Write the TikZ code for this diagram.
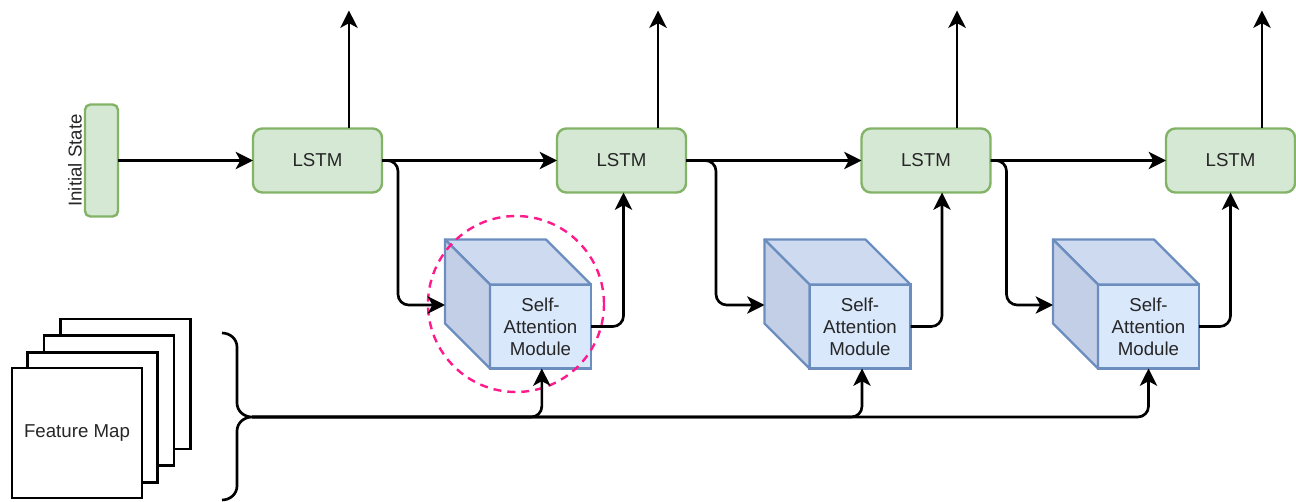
\documentclass[tikz,border=0pt]{standalone}
\usepackage{fontspec}
\setmainfont{Liberation Sans}
\usetikzlibrary{arrows.meta,calc}
\definecolor{lfill}{HTML}{D5E8D4}
\definecolor{lstroke}{HTML}{82B366}
\definecolor{cfront}{HTML}{DAE8FC}
\definecolor{ctop}{HTML}{CDDAF0}
\definecolor{cside}{HTML}{C3CFE6}
\definecolor{cstroke}{HTML}{6C8EBF}
\definecolor{hl}{HTML}{FF1A8C}
\definecolor{txt}{HTML}{262626}
\begin{document}
\begin{tikzpicture}[x=0.75pt,y=-0.75pt,
  lbl/.style={font=\fontsize{14}{16.5}\selectfont, text=txt},
  lstm/.style={lbl, draw=lstroke, fill=lfill, line width=1.8pt, rounded corners=7pt,
    minimum width=96.75pt, minimum height=48pt, inner sep=0pt, outer sep=0pt},
  initbox/.style={draw=lstroke, fill=lfill, line width=1.8pt, rounded corners=4pt,
    minimum width=24.75pt, minimum height=84pt, inner sep=0pt, outer sep=0pt},
  front/.style={lbl, draw=cstroke, fill=cfront, line width=1.8pt, align=center,
    minimum width=75.75pt, minimum height=63pt, inner sep=0pt, outer sep=0pt},
  topface/.style={draw=cstroke, fill=ctop, line width=1.8pt, line join=round},
  sideface/.style={draw=cstroke, fill=cside, line width=1.8pt, line join=round},
  fmap/.style={lbl, draw=black, fill=white, line width=2.2pt, minimum size=97.5pt,
    inner sep=0pt, outer sep=0pt},
  arr/.style={-{Stealth[length=13pt,width=13pt,inset=3.5pt]}, line width=2pt, black},
  elbow/.style={arr, rounded corners=8pt},
  focus/.style={draw=hl, line width=1.8pt, dash pattern=on 6pt off 4.5pt, circle,
    minimum size=132pt, inner sep=0pt},
]
\useasboundingbox (0,0) rectangle (1296,502);

% initial state
\node[initbox] (init) at (101.5,160.5) {};
\node[lbl, rotate=90] (initlbl) at (75,160.5) {Initial State};

% LSTM cells
\node[lstm] (l1) at (317.5,160.5) {LSTM};
\node[lstm] (l2) at (621.5,160.5) {LSTM};
\node[lstm] (l3) at (926,160.5) {LSTM};
\node[lstm] (l4) at (1230.5,160.5) {LSTM};

% cubes
\foreach \n/\cx in {1/540.5, 2/860, 3/1148.5}{
  \node[front] (f\n) at (\cx,326.5) {Self-\\Attention\\Module};
  \filldraw[topface] (f\n.north west) -- ++(-45,-45) -- ++(101,0) -- (f\n.north east) -- cycle;
  \filldraw[sideface] (f\n.north west) -- ++(-45,-45) -- ++(0,84) -- (f\n.south west) -- cycle;
}
\coordinate (s1) at (445,305);
\coordinate (s2) at (764.5,305);
\coordinate (s3) at (1053,305);

% highlight circle
\node[focus] (circ) at (516,304) {};

% feature maps
\node[fmap] (fm4) at (125.5,384) {};
\node[fmap] (fm3) at (109,400.5) {};
\node[fmap] (fm2) at (92.5,417.5) {};
\node[fmap] (fm1) at (77,433) {Feature Map};

% brace
\coordinate (bt) at (252,417);
\draw[line width=2pt] (222,333) to[out=0,in=90] (237,347) -- (237,403)
  to[out=-90,in=180] (bt) to[out=180,in=90] (237,431) -- (237,486)
  to[out=-90,in=0] (222,500);

% horizontal chain
\draw[arr] (init.east) -- (l1.west);
\draw[arr] (l1.east) -- (l2.west);
\draw[arr] (l2.east) -- (l3.west);
\draw[arr] (l3.east) -- (l4.west);

% outputs
\draw[arr] ([xshift=23.6pt]l1.north) -- ++(0,-118);
\draw[arr] ([xshift=27.4pt]l2.north) -- ++(0,-118);
\draw[arr] ([xshift=23.3pt]l3.north) -- ++(0,-118);
\draw[arr] ([xshift=23.6pt]l4.north) -- ++(0,-118);

% hidden state to attention
\draw[elbow] (l1.east) -- ++(16,0) |- (s1);
\draw[elbow] (l2.east) -- ++(30,0) |- (s2);
\draw[elbow] (l3.east) -- ++(16,0) |- (s3);

% attention to next LSTM
\draw[elbow] (f1.east) -| ([xshift=1.5pt]l2.south);
\draw[elbow] (f2.east) -| ([xshift=12pt]l3.south);
\draw[elbow] (f3.east) -| (l4.south);

% feature map to attention
\draw[elbow] (bt) -| ([xshift=1pt]f1.south);
\draw[elbow] (bt) -| ([xshift=1.5pt]f2.south);
\draw[elbow] (bt) -| (f3.south);
\end{tikzpicture}
\end{document}
